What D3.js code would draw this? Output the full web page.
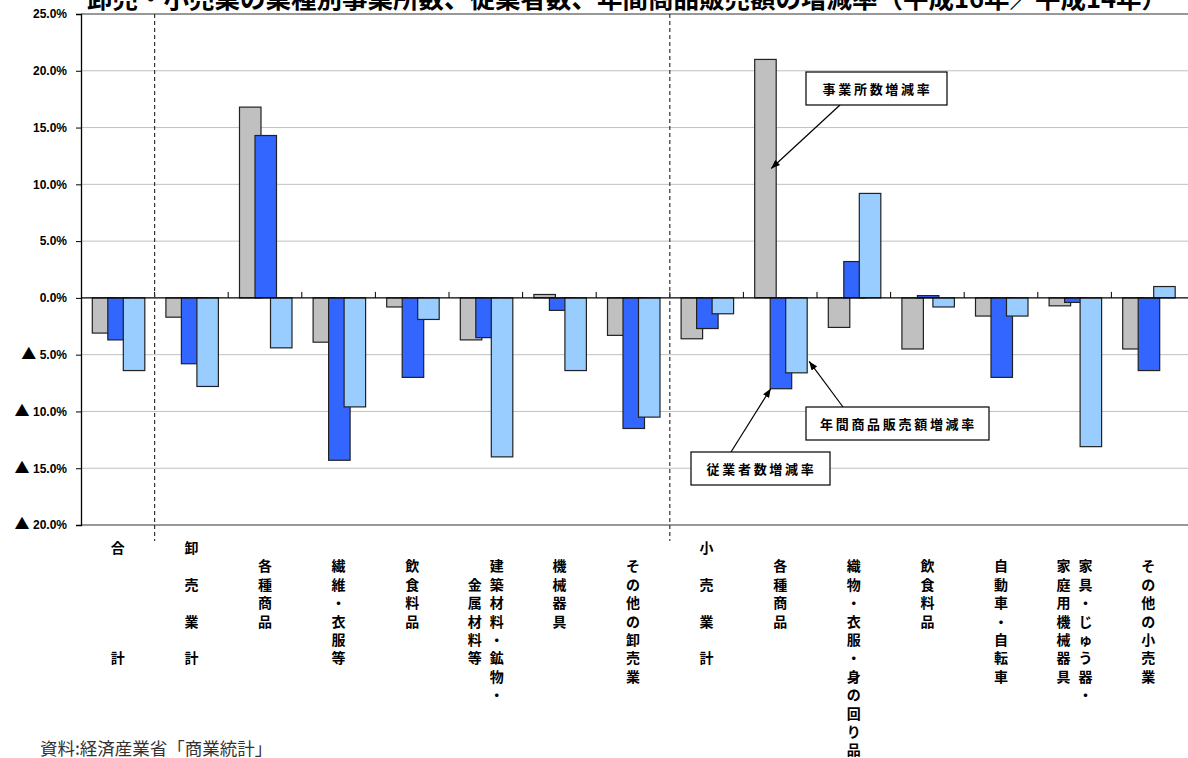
<!DOCTYPE html>
<html>
<head>
<meta charset="utf-8">
<script src="https://cdn.jsdelivr.net/npm/d3@7"></script>
<style>
  body { margin: 0; background: #fff; }
  svg { display: block; }
</style>
</head>
<body>
<svg id="chart"></svg>
<script>
// ---- data ----
const categories = [
    "合計", "卸売業計", "各種商品", "繊維・衣服等", "飲食料品",
    "建築材料・鉱物・金属材料等", "機械器具", "その他の卸売業",
    "小売業計", "各種商品 ", "織物・衣服・身の回り品", "飲食料品 ",
    "自動車・自転車", "家具・じゅう器・家庭用機械器具", "その他の小売業"
];

// vertical labels, right column first; "　" = an empty row
const labelColumns = [
    ["合　　　　　計"],
    ["卸　売　業　計"],
    ["　各種商品"],
    ["　繊維・衣服等"],
    ["　飲食料品"],
    ["　建築材料・鉱物・", "　　金属材料等"],
    ["　機械器具"],
    ["　その他の卸売業"],
    ["小　売　業　計"],
    ["　各種商品"],
    ["　織物・衣服・身の回り品"],
    ["　飲食料品"],
    ["　自動車・自転車"],
    ["　家具・じゅう器・", "　家庭用機械器具"],
    ["　その他の小売業"]
];

const seriesNames = ["事業所数増減率", "従業者数増減率", "年間商品販売額増減率"];
const establishments = [-3.1, -1.7, 16.8, -3.9, -0.8, -3.7, 0.3, -3.3, -3.6, 21.0, -2.6, -4.5, -1.6, -0.7, -4.5];
const employees      = [-3.7, -5.8, 14.3, -14.3, -7.0, -3.5, -1.1, -11.5, -2.7, -8.0, 3.2, 0.2, -7.0, -0.4, -6.4];
const sales          = [-6.4, -7.8, -4.4, -9.6, -1.9, -14.0, -6.4, -10.5, -1.4, -6.6, 9.2, -0.8, -1.6, -13.1, 1.0];
const seriesColors   = ["#c0c0c0", "#3366ff", "#99ccff"];

const yTicks = [-20, -15, -10, -5, 0, 5, 10, 15, 20, 25];

const titleText = "卸売・小売業の業種別事業所数、従業者数、年間商品販売額の増減率（平成16年／平成14年）";
const sourceText = "資料:経済産業省「商業統計」";

// ---- layout ----
const W = 1188, H = 758;
const plot = {left: 81, right: 1185, top: 14, bottom: 525};

const svg = d3.select("#chart")
    .attr("width", W)
    .attr("height", H)
    .style("font-family", "'Noto Sans CJK JP', 'DejaVu Sans', sans-serif");

svg.append("rect").attr("width", W).attr("height", H).attr("fill", "#fff");

const x = d3.scaleBand()
    .domain(categories)
    .range([plot.left, plot.right])
    .padding(0);

const y = d3.scaleLinear()
    .domain([-20, 25])
    .range([plot.bottom, plot.top]);

// gridlines
svg.append("g")
    .selectAll("line")
    .data(yTicks.filter(v => v > -20 && v < 25 && v !== 0))
    .join("line")
    .attr("x1", plot.left)
    .attr("x2", W)
    .attr("y1", d => y(d))
    .attr("y2", d => y(d))
    .attr("stroke", "#c0c0c0")
    .attr("stroke-width", 1);

// bars: three overlapping bars per category
const barW = 21.5, barStep = 15.5;
const series = [establishments, employees, sales];
series.forEach((vals, si) => {
    svg.append("g")
        .selectAll("rect")
        .data(vals.map((v, i) => ({cat: categories[i], v})))
        .join("rect")
        .attr("x", d => x(d.cat) + x.bandwidth() / 2 - 25.5 + si * barStep)
        .attr("width", barW)
        .attr("y", d => y(Math.max(0, d.v)))
        .attr("height", d => Math.abs(y(d.v) - y(0)))
        .attr("fill", seriesColors[si])
        .attr("stroke", "#222")
        .attr("stroke-width", 1.2);
});

// plot frame
svg.append("line").attr("x1", plot.left).attr("x2", W).attr("y1", plot.top).attr("y2", plot.top)
    .attr("stroke", "#333").attr("stroke-width", 1.2);
svg.append("line").attr("x1", plot.left).attr("x2", W).attr("y1", plot.bottom).attr("y2", plot.bottom)
    .attr("stroke", "#333").attr("stroke-width", 1.2);

// y axis
const yAxis = svg.append("g")
    .attr("transform", `translate(${plot.left},0)`)
    .call(d3.axisLeft(y)
        .tickValues(yTicks)
        .tickSize(5)
        .tickPadding(9)
        .tickFormat(""));
yAxis.select(".domain").attr("stroke", "#000").attr("stroke-width", 1.3);
yAxis.selectAll(".tick line").attr("stroke", "#000");

// tick labels: negatives get a large ▲ in front
const yLab = yAxis.selectAll(".tick text")
    .attr("fill", "#000")
    .style("font-family", "'Liberation Sans', 'DejaVu Sans', sans-serif")
    .style("font-size", "12px")
    .style("font-weight", "bold");
yLab.each(function(v) {
    const t = d3.select(this);
    if (v < 0) {
        t.append("tspan")
            .style("font-family", "'Noto Sans CJK JP', sans-serif")
            .style("font-size", "15px")
            .text("▲ ");
        t.append("tspan").text(Math.abs(v).toFixed(1) + "%");
    } else {
        t.text(v.toFixed(1) + "%");
    }
});

// zero line with ticks between categories
svg.append("line")
    .attr("x1", plot.left).attr("x2", W)
    .attr("y1", y(0)).attr("y2", y(0))
    .attr("stroke", "#000").attr("stroke-width", 1.2);
svg.append("g")
    .selectAll("line")
    .data(categories.slice(1))
    .join("line")
    .attr("x1", d => x(d)).attr("x2", d => x(d))
    .attr("y1", y(0)).attr("y2", y(0) - 6)
    .attr("stroke", "#000");

// dashed separators before 卸売業計 and 小売業計
svg.append("g")
    .selectAll("line")
    .data([categories[1], categories[8]])
    .join("line")
    .attr("x1", d => x(d)).attr("x2", d => x(d))
    .attr("y1", plot.top).attr("y2", plot.bottom + 16)
    .attr("stroke", "#333")
    .attr("stroke-width", 1.2)
    .attr("stroke-dasharray", "4,3");

// category labels, written vertically
const rowH = 18.4, row0 = 547, colGap = 22;
const labelG = svg.append("g")
    .style("font-size", "14px")
    .style("font-weight", "bold")
    .attr("fill", "#000");
labelColumns.forEach((cols, i) => {
    const cx = x(categories[i]) + x.bandwidth() / 2;
    cols.forEach((col, ci) => {
        const colX = cx + ((cols.length - 1) / 2 - ci) * colGap;
        Array.from(col).forEach((ch, ri) => {
            if (ch === "　") return;
            labelG.append("text")
                .attr("x", colX)
                .attr("y", row0 + ri * rowH)
                .attr("text-anchor", "middle")
                .attr("dominant-baseline", "central")
                .text(ch);
        });
    });
});

// title (clipped at the top edge as in the original)
svg.append("text")
    .attr("x", 627)
    .attr("y", 8)
    .attr("text-anchor", "middle")
    .style("font-size", "25.5px")
    .style("font-weight", "bold")
    .text(titleText);

// source note
svg.append("text")
    .attr("x", 40)
    .attr("y", 747)
    .attr("dominant-baseline", "central")
    .attr("fill", "#333")
    .style("font-size", "17.5px")
    .text(sourceText);

// callouts with arrows pointing at bars of 各種商品 (retail)
svg.append("defs").append("marker")
    .attr("id", "arrow")
    .attr("viewBox", "0 -4 10 8")
    .attr("refX", 10).attr("refY", 0)
    .attr("markerWidth", 9).attr("markerHeight", 7)
    .attr("markerUnits", "userSpaceOnUse")
    .attr("orient", "auto")
    .append("path")
    .attr("d", "M0,-4L10,0L0,4Z")
    .attr("fill", "#000");

const callouts = [
    {text: seriesNames[0], box: [806, 72, 141, 33], from: [840, 105], cat: 9, dx: -9, value: 11.4},
    {text: seriesNames[2], box: [806, 407, 183, 33], from: [843, 407], cat: 9, dx: 29, value: -5.6},
    {text: seriesNames[1], box: [691, 452, 139, 33], from: [731, 452], cat: 9, dx: -9.5, value: -8.0}
];
const cg = svg.append("g");
callouts.forEach(c => {
    const tx = x(categories[c.cat]) + x.bandwidth() / 2 + c.dx;
    const ty = y(c.value);
    cg.append("line")
        .attr("x1", c.from[0]).attr("y1", c.from[1])
        .attr("x2", tx).attr("y2", ty)
        .attr("stroke", "#000").attr("stroke-width", 1.2)
        .attr("marker-end", "url(#arrow)");
    cg.append("rect")
        .attr("x", c.box[0]).attr("y", c.box[1])
        .attr("width", c.box[2]).attr("height", c.box[3])
        .attr("fill", "#fff").attr("stroke", "#000").attr("stroke-width", 1.2);
    cg.append("text")
        .attr("x", c.box[0] + c.box[2] / 2 + 1)
        .attr("y", c.box[1] + c.box[3] / 2)
        .attr("text-anchor", "middle")
        .attr("dominant-baseline", "central")
        .style("font-size", "13px")
        .style("font-weight", "bold")
        .style("letter-spacing", "2.7px")
        .text(c.text);
});
</script>
</body>
</html>
